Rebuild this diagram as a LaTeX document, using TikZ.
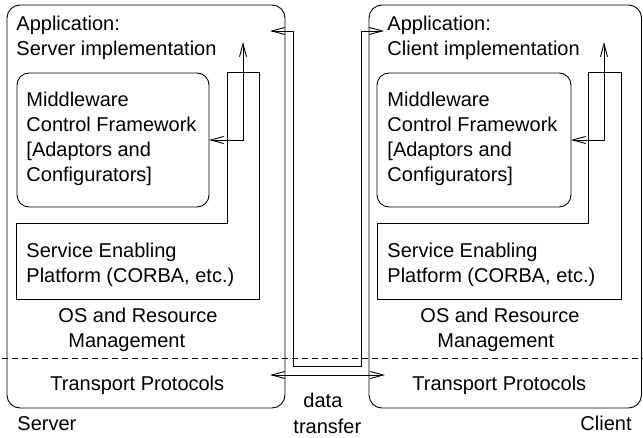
\documentclass[tikz,border=0pt]{standalone}
\usepackage{fontspec}
\setmainfont{Liberation Sans}
\usetikzlibrary{arrows.meta}
\begin{document}
\begin{tikzpicture}[x=1pt, y=-1pt, line width=0.9pt,
  % multi-line texts are anchored at the baseline of their last line
  txt/.style={anchor=base west, inner sep=0pt, align=left,
    font=\fontsize{20}{25}\selectfont},
  hostbox/.style={draw, rounded corners=13pt, inner sep=0pt, outer sep=0pt},
  mwbox/.style={draw, rounded corners=12pt, inner sep=0pt, outer sep=0pt},
  sig/.style={{Straight Barb[length=13pt,width=7pt]}-{Straight Barb[length=13pt,width=7pt]}},
  layer/.style={dash pattern=on 6pt off 4pt},
]
\useasboundingbox (0,0) rectangle (643,438);

% host frames
\node[hostbox, minimum width=278pt, minimum height=403pt] (srv) at (146,206.5) {};
\node[hostbox, minimum width=272.5pt, minimum height=403pt] (cli) at (505.25,206.5) {};

% middleware control frameworks
\node[mwbox, minimum width=192pt, minimum height=134pt] (smw) at (113,140) {};
\node[mwbox, minimum width=194pt, minimum height=134pt] (cmw) at (474,140) {};

% service enabling platforms (L-shaped)
\draw (16,223) -- (227,223) -- (227,72) -- (259,72) -- (259,299) -- (16,299) -- cycle;
\draw (377,223) -- (588,223) -- (588,72) -- (621,72) -- (621,299) -- (377,299) -- cycle;

% boundary between OS and transport layers
\draw[layer] (2,358) -- (643,358);

% texts, server side
\node[txt] (sapptxt) at (16,56) {Application:\\Server implementation};
\node[txt] (smwtxt) at (26,182) {Middleware\\Control Framework\\{[}Adaptors and\\Configurators]};
\node[txt] (ssvctxt) at (26,283) {Service Enabling\\Platform (CORBA, etc.)};
\node[txt] (sostxt) at (58,348) {OS and Resource\\\hspace*{10pt}Management};
\node[txt] (strtxt) at (50,391) {Transport Protocols};
\node[txt] (sname) at (17,431) {Server};

% texts, client side
\node[txt] (capptxt) at (387,56) {Application:\\Client implementation};
\node[txt] (cmwtxt) at (387,182) {Middleware\\Control Framework\\{[}Adaptors and\\Configurators]};
\node[txt] (csvctxt) at (387,283) {Service Enabling\\Platform (CORBA, etc.)};
\node[txt] (costxt) at (420,348) {OS and Resource\\\hspace*{17pt}Management};
\node[txt] (ctrtxt) at (412,391) {Transport Protocols};
\node[txt] (cname) at (580,431) {Client};

\node[txt] (dtxt) at (293,433) {\hspace*{10pt}data\\transfer};

% connector end points
\coordinate (sapp) at (243,42);
\coordinate (capp) at (604,42);
\coordinate (stopend) at (270,31);
\coordinate (sdown) at (293,31);
\coordinate (sbend) at (293,366);
\coordinate (cbend) at (361,366);
\coordinate (cup) at (361,31);
\coordinate (ctopend) at (384,31);
\coordinate (sbot) at (270,375);
\coordinate (cbot) at (385,375);

% adaptation signals
\draw[sig] (sapp) |- (smw.east);
\draw[sig] (capp) |- (cmw.east);

% data transfer between the hosts
\draw[sig] (stopend) -- (sdown) -- (sbend) -- (cbend) -- (cup) -- (ctopend);
\draw[sig] (sbot) -- (cbot);
\end{tikzpicture}
\end{document}
